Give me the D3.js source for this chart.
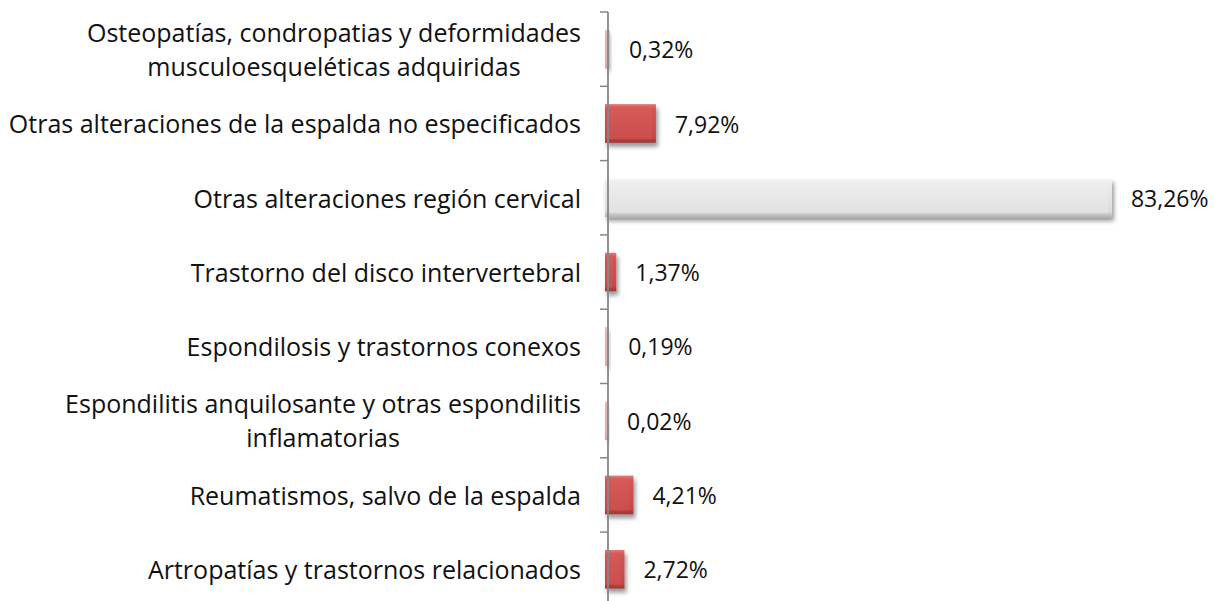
<!DOCTYPE html>
<html>
<head>
<meta charset="utf-8">
<script src="https://cdn.jsdelivr.net/npm/d3@7"></script>
<style>
  html, body { margin: 0; padding: 0; background: #ffffff; }
  svg { display: block; }
  text { font-family: "Open Sans", "Noto Sans", sans-serif; fill: #111; }
</style>
</head>
<body>
<svg id="chart" width="1219" height="601"></svg>
<script>
const categories = [
  "Osteopatías, condropatias y deformidades\nmusculoesqueléticas adquiridas",
  "Otras alteraciones de la espalda no especificados",
  "Otras alteraciones región cervical",
  "Trastorno del disco intervertebral",
  "Espondilosis y trastornos conexos",
  "Espondilitis anquilosante y otras espondilitis\ninflamatorias",
  "Reumatismos, salvo de la espalda",
  "Artropatías y trastornos relacionados"
];
const values = [0.32, 7.92, 83.26, 1.37, 0.19, 0.02, 4.21, 2.72];

(function () {
const axisX = 608, yTop = 12, yBottom = 606.4;
const svg = d3.select("#chart");

const x = d3.scaleLinear().domain([0, 90]).range([axisX, axisX + 90 * 6.053]);
const y = d3.scaleBand().domain(categories).range([yTop, yBottom])
  .paddingInner(0.48).paddingOuter(0.24);

const defs = svg.append("defs");
const f = defs.append("filter").attr("id", "shadow")
  .attr("x", "-20%").attr("y", "-30%").attr("width", "160%").attr("height", "180%");
f.append("feDropShadow").attr("dx", 2).attr("dy", 4).attr("stdDeviation", 2.2)
  .attr("flood-color", "#000").attr("flood-opacity", 0.4);

function grad(id, stops) {
  const g = defs.append("linearGradient").attr("id", id)
    .attr("x1", 0).attr("y1", 0).attr("x2", 0).attr("y2", 1);
  stops.forEach(s => g.append("stop").attr("offset", s[0]).attr("stop-color", s[1]));
}
grad("redOuter", [[0, "#e07a78"], [0.12, "#d35553"], [0.85, "#c44a48"], [1, "#9e3432"]]);
grad("redInner", [[0, "#d65a58"], [1, "#cb4e4c"]]);
grad("grayOuter", [[0, "#f7f7f7"], [0.12, "#ececec"], [0.85, "#dcdcdc"], [1, "#b3b3b3"]]);
grad("grayInner", [[0, "#efefef"], [1, "#e1e1e1"]]);

const maxV = d3.max(values);
const data = categories.map((c, i) => ({ c, v: values[i] }));

const bars = svg.append("g").selectAll("g").data(data).join("g");
bars.append("rect")
  .attr("x", x(0) - 3)
  .attr("y", d => y(d.c))
  .attr("width", d => Math.max(1.5, x(d.v) - x(0) + 3))
  .attr("height", y.bandwidth())
  .attr("fill", d => d.v === maxV ? "url(#grayOuter)" : "url(#redOuter)")
  .attr("opacity", d => (x(d.v) - x(0)) < 3 ? 0.45 : 1)
  .attr("filter", "url(#shadow)");
bars.filter(d => x(d.v) - x(0) > 8).append("rect")
  .attr("x", x(0) - 1)
  .attr("y", d => y(d.c) + 3)
  .attr("width", d => x(d.v) - x(0) - 3)
  .attr("height", y.bandwidth() - 7)
  .attr("fill", d => d.v === maxV ? "url(#grayInner)" : "url(#redInner)");

// axis line and ticks at band boundaries
const axisG = svg.append("g");
axisG.append("line")
  .attr("x1", axisX).attr("x2", axisX)
  .attr("y1", y.range()[0]).attr("y2", y.range()[1])
  .attr("stroke", "#868686").attr("stroke-width", 1.8);
const bounds = d3.range(categories.length + 1).map(i => y.range()[0] + i * y.step());
axisG.selectAll("line.tick").data(bounds).join("line").attr("class", "tick")
  .attr("x1", axisX - 8).attr("x2", axisX)
  .attr("y1", d => d).attr("y2", d => d)
  .attr("stroke", "#868686").attr("stroke-width", 1.5);

// category labels
const labelRight = 581, fs = 25, lh = 34;
data.forEach(d => {
  const lines = d.c.split("\n");
  const cy = y(d.c) + y.bandwidth() / 2 + 1;
  const t = svg.append("text").attr("font-size", fs).attr("text-anchor", "middle");
  lines.forEach((ln, k) => {
    t.append("tspan").text(ln)
      .attr("y", cy + (k - (lines.length - 1) / 2) * lh)
      .attr("dy", "0.35em");
  });
  let maxW = 0;
  t.selectAll("tspan").each(function () { maxW = Math.max(maxW, this.getComputedTextLength()); });
  t.selectAll("tspan").attr("x", labelRight - maxW / 2);
});

// value labels
const fmt = v => d3.format(".2f")(v).replace(".", ",") + "%";
svg.append("g").selectAll("text").data(data).join("text")
  .attr("x", d => x(d.v) + 19)
  .attr("y", d => y(d.c) + y.bandwidth() / 2 + 1)
  .attr("dy", "0.35em")
  .attr("font-size", 23)
  .text(d => fmt(d.v));
})();
</script>
</body>
</html>
